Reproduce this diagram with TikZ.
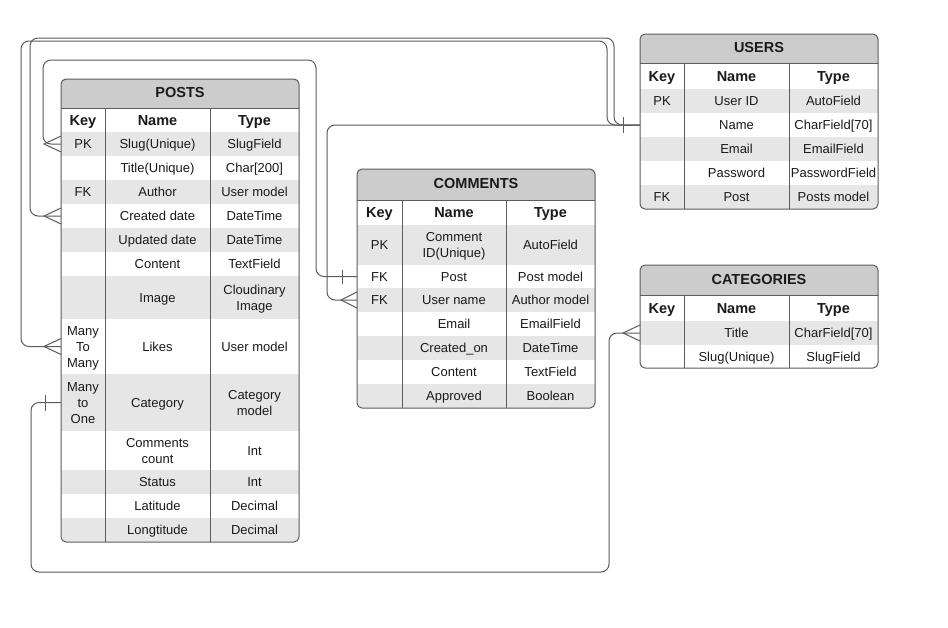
\documentclass[tikz,border=0pt]{standalone}
\usepackage{fontspec}
\setmainfont{Liberation Sans}
\definecolor{linec}{HTML}{5C5C5C}
\definecolor{titlefill}{HTML}{CCCCCC}
\definecolor{shadefill}{HTML}{E6E6E6}
\definecolor{txt}{HTML}{1A1A1A}
\tikzset{
  cell/.style={inner sep=0pt, text=txt, yshift=-1.45pt, font=\fontsize{13}{16}\selectfont},
  hd/.style={inner sep=0pt, text=txt, yshift=-1.8pt, font=\bfseries\fontsize{14.5}{17}\selectfont},
  ttl/.style={inner sep=0pt, text=txt, yshift=-0.9pt, font=\bfseries\fontsize{14.5}{17}\selectfont},
  tline/.style={draw=linec, line width=1pt},
  conn/.style={draw=linec, line width=1pt, rounded corners=8},
  endmark/.style={draw=linec, line width=1pt},
}
\newcommand{\cellbox}[1]{\begin{tabular}{@{}c@{}}#1\end{tabular}}
\newcommand{\setcols}[4]{\def\colA{#1}\def\colB{#2}\def\colC{#3}\def\colD{#4}}
\newcommand{\tabtitle}[4]{%
  \fill[titlefill] (\colA,#3) rectangle (\colD,#4);
  \node[ttl] (#1) at ({(\colA+\colD)/2},{(#3+#4)/2}) {\cellbox{#2}};}
\newcommand{\tabhead}[3]{%
  \fill[white] (\colA,#2) rectangle (\colD,#3);
  \node[hd] (#1-k) at ({(\colA+\colB)/2},{(#2+#3)/2}) {\cellbox{Key}};
  \node[hd] (#1-n) at ({(\colB+\colC)/2},{(#2+#3)/2}) {\cellbox{Name}};
  \node[hd] (#1-t) at ({(\colC+\colD)/2},{(#2+#3)/2}) {\cellbox{Type}};}
\newcommand{\erow}[7]{%
  \fill[#7] (\colA,#2) rectangle (\colD,#3);
  \node[cell] (#1-k) at ({(\colA+\colB)/2},{(#2+#3)/2}) {\cellbox{#4}};
  \node[cell] (#1-n) at ({(\colB+\colC)/2},{(#2+#3)/2}) {\cellbox{#5}};
  \node[cell] (#1-t) at ({(\colC+\colD)/2},{(#2+#3)/2}) {\cellbox{#6}};
  \coordinate (#1-L) at (\colA,{(#2+#3)/2});}
\newcommand{\tabframe}[3]{%
  \draw[tline, rounded corners=5] (\colA,#1) rectangle (\colD,#3);
  \draw[tline] (\colA,#2) -- (\colD,#2) (\colB,#2) -- (\colB,#3) (\colC,#2) -- (\colC,#3);}
\begin{document}
\begin{tikzpicture}[x=1pt,y=-1pt]
\useasboundingbox (0,0) rectangle (948,627);
\fill[white] (0,0) rectangle (948,627);

% ---------------- POSTS ----------------
\setcols{61}{105}{210}{299}
\begin{scope}
\clip[rounded corners=5] (\colA,79) rectangle (\colD,542);
\tabtitle{posts}{POSTS}{79}{108}
\tabhead{posts-h}{108}{132}
\erow{posts-pk}{132}{156}{PK}{Slug(Unique)}{SlugField}{shadefill}
\erow{posts-title}{156}{180}{}{Title(Unique)}{Char[200]}{white}
\erow{posts-author}{180}{204}{FK}{Author}{User model}{shadefill}
\erow{posts-created}{204}{228}{}{Created date}{DateTime}{white}
\erow{posts-updated}{228}{252}{}{Updated date}{DateTime}{shadefill}
\erow{posts-content}{252}{276}{}{Content}{TextField}{white}
\erow{posts-image}{276}{319}{}{Image}{Cloudinary\\Image}{shadefill}
\erow{posts-likes}{319}{374}{Many\\To\\Many}{Likes}{User model}{white}
\erow{posts-category}{374}{431}{Many\\to\\One}{Category}{Category\\model}{shadefill}
\erow{posts-ccount}{431}{470}{}{Comments\\count}{Int}{white}
\erow{posts-status}{470}{494}{}{Status}{Int}{shadefill}
\erow{posts-lat}{494}{518}{}{Latitude}{Decimal}{white}
\erow{posts-long}{518}{542}{}{Longtitude}{Decimal}{shadefill}
\end{scope}
\tabframe{79}{108}{542}

% ---------------- COMMENTS ----------------
\setcols{357}{402}{506}{595}
\begin{scope}
\clip[rounded corners=5] (\colA,169) rectangle (\colD,408);
\tabtitle{comments}{COMMENTS}{169}{200}
\tabhead{comments-h}{200}{225}
\erow{comments-id}{225}{265}{PK}{Comment\\ID(Unique)}{AutoField}{shadefill}
\erow{comments-post}{265}{288}{FK}{Post}{Post model}{white}
\erow{comments-uname}{288}{312}{FK}{User name}{Author model}{shadefill}
\erow{comments-email}{312}{336}{}{Email}{EmailField}{white}
\erow{comments-created}{336}{360}{}{Created\_on}{DateTime}{shadefill}
\erow{comments-content}{360}{384}{}{Content}{TextField}{white}
\erow{comments-approved}{384}{408}{}{Approved}{Boolean}{shadefill}
\end{scope}
\tabframe{169}{200}{408}

% ---------------- USERS ----------------
\setcols{640}{684}{789}{878}
\begin{scope}
\clip[rounded corners=5] (\colA,34) rectangle (\colD,209);
\tabtitle{users}{USERS}{34}{63}
\tabhead{users-h}{63}{89}
\erow{users-id}{89}{113}{PK}{User ID}{AutoField}{shadefill}
\erow{users-name}{113}{137}{}{Name}{CharField[70]}{white}
\erow{users-email}{137}{161}{}{Email}{EmailField}{shadefill}
\erow{users-pw}{161}{185}{}{Password}{PasswordField}{white}
\erow{users-post}{185}{209}{FK}{Post}{Posts model}{shadefill}
\end{scope}
\tabframe{34}{63}{209}

% ---------------- CATEGORIES ----------------
\setcols{640}{684}{789}{878}
\begin{scope}
\clip[rounded corners=5] (\colA,265) rectangle (\colD,368);
\tabtitle{cat}{CATEGORIES}{265}{295}
\tabhead{cat-h}{295}{321}
\erow{cat-title}{321}{345}{}{Title}{CharField[70]}{shadefill}
\erow{cat-slug}{345}{368}{}{Slug(Unique)}{SlugField}{white}
\end{scope}
\tabframe{265}{295}{368}

% ---------------- CONNECTORS ----------------
% POSTS.PK  -- COMMENTS.Post
\draw[conn] (posts-pk-L) -| (43,60) -| ([xshift=-41pt]comments-post-L) -- (comments-post-L);
\draw[endmark, shift={(posts-pk-L)}] (0,-8) -- (-17,0) -- (0,8);
\draw[endmark, shift={(comments-post-L)}] (-15,-7) -- (-15,7);

% POSTS.Created date -- USERS.Name
\draw[conn] (posts-created-L) -| (30,38) -| ([xshift=-26pt]users-name-L) -- (users-name-L);
\draw[endmark, shift={(posts-created-L)}] (0,-8) -- (-17,0) -- (0,8);

% POSTS.Likes -- USERS.Name
\draw[conn] (posts-likes-L) -| (21,41) -| ([xshift=-33pt]users-name-L) -- (users-name-L);
\draw[endmark, shift={(posts-likes-L)}] (0,-8) -- (-17,0) -- (0,8);

% COMMENTS.User name -- USERS.Name
\draw[conn] (comments-uname-L) -| ([xshift=-313pt]users-name-L) -- (users-name-L);
\draw[endmark, shift={(comments-uname-L)}] (0,-8) -- (-16,0) -- (0,8);
\draw[endmark, shift={(users-name-L)}] (-17,-8) -- (-17,8);

% POSTS.Category -- CATEGORIES.Title
\draw[conn] (posts-category-L) -| (31,572) -| ([xshift=-31pt]cat-title-L) -- (cat-title-L);
\draw[endmark, shift={(posts-category-L)}] (-16,-8) -- (-16,8);
\draw[endmark, shift={(cat-title-L)}] (0,-8) -- (-17,0) -- (0,8);
\end{tikzpicture}
\end{document}
